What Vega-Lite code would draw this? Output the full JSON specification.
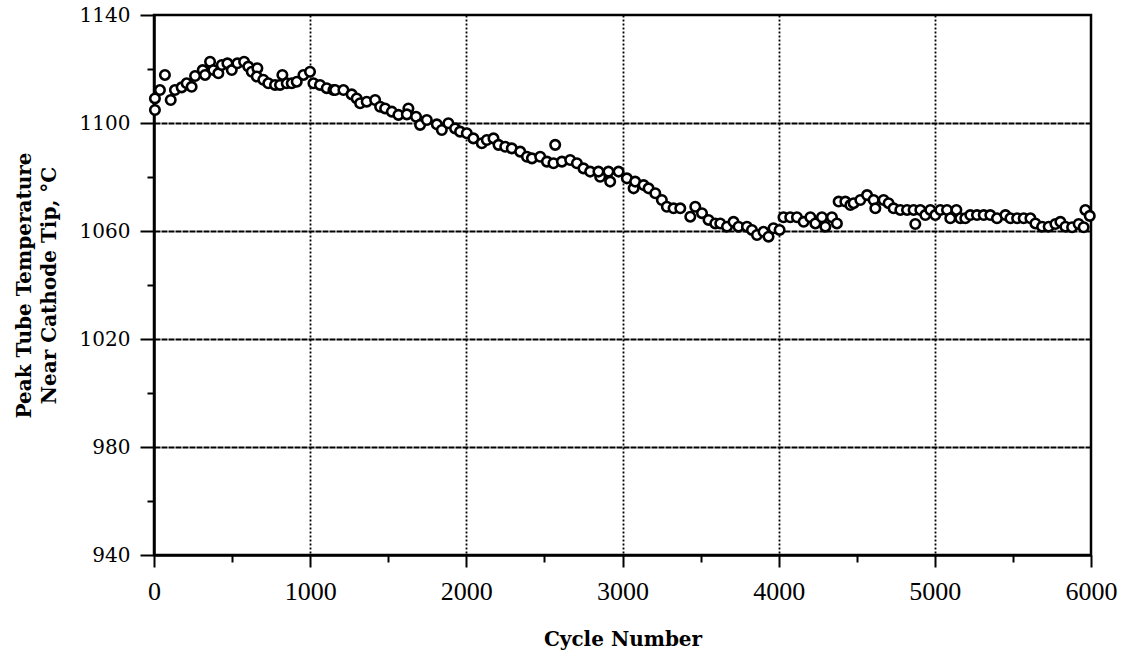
{
  "$schema": "https://vega.github.io/schema/vega-lite/v6.json",
  "width": 937,
  "height": 540,
  "autosize": "none",
  "padding": {"left": 154, "top": 15, "right": 37, "bottom": 102},
  "background": "white",
  "config": {"view": {"stroke": "black", "strokeWidth": 2.5}},
  "data": {"values": [
    {"cycle": 6, "temp": 1109.1}, {"cycle": 6, "temp": 1104.8}, {"cycle": 38, "temp": 1112.2}, {"cycle": 70, "temp": 1117.8},
    {"cycle": 107, "temp": 1108.5}, {"cycle": 134, "temp": 1112.2}, {"cycle": 177, "temp": 1113.2}, {"cycle": 209, "temp": 1114.7},
    {"cycle": 241, "temp": 1113.4}, {"cycle": 263, "temp": 1117.4}, {"cycle": 312, "temp": 1119.6}, {"cycle": 327, "temp": 1117.8},
    {"cycle": 359, "temp": 1122.7}, {"cycle": 380, "temp": 1119.6}, {"cycle": 412, "temp": 1118.4}, {"cycle": 434, "temp": 1121.5},
    {"cycle": 470, "temp": 1122.1}, {"cycle": 498, "temp": 1119.6}, {"cycle": 534, "temp": 1122.1}, {"cycle": 577, "temp": 1122.7},
    {"cycle": 604, "temp": 1120.9}, {"cycle": 626, "temp": 1119.0}, {"cycle": 662, "temp": 1120.3}, {"cycle": 658, "temp": 1117.2},
    {"cycle": 700, "temp": 1116.0}, {"cycle": 732, "temp": 1114.7}, {"cycle": 775, "temp": 1114.1}, {"cycle": 822, "temp": 1117.8},
    {"cycle": 807, "temp": 1114.1}, {"cycle": 850, "temp": 1114.7}, {"cycle": 882, "temp": 1114.7}, {"cycle": 914, "temp": 1115.3},
    {"cycle": 957, "temp": 1117.8}, {"cycle": 999, "temp": 1119.0}, {"cycle": 1021, "temp": 1114.7}, {"cycle": 1063, "temp": 1114.1},
    {"cycle": 1106, "temp": 1112.9}, {"cycle": 1149, "temp": 1112.2},
    {"cycle": 1160, "temp": 1112.2}, {"cycle": 1213, "temp": 1112.2}, {"cycle": 1266, "temp": 1110.6}, {"cycle": 1298, "temp": 1109.1},
    {"cycle": 1320, "temp": 1107.3}, {"cycle": 1362, "temp": 1107.9}, {"cycle": 1416, "temp": 1108.5}, {"cycle": 1448, "temp": 1106.0},
    {"cycle": 1480, "temp": 1105.4}, {"cycle": 1523, "temp": 1104.2}, {"cycle": 1565, "temp": 1103.0}, {"cycle": 1629, "temp": 1105.4},
    {"cycle": 1619, "temp": 1103.2}, {"cycle": 1678, "temp": 1102.3}, {"cycle": 1704, "temp": 1099.3}, {"cycle": 1747, "temp": 1101.1},
    {"cycle": 1811, "temp": 1099.5}, {"cycle": 1843, "temp": 1097.4}, {"cycle": 1885, "temp": 1099.9}, {"cycle": 1928, "temp": 1098.0},
    {"cycle": 1960, "temp": 1096.8}, {"cycle": 2003, "temp": 1096.2}, {"cycle": 2045, "temp": 1094.3}, {"cycle": 2099, "temp": 1092.5},
    {"cycle": 2131, "temp": 1093.7}, {"cycle": 2174, "temp": 1094.3}, {"cycle": 2206, "temp": 1091.9}, {"cycle": 2249, "temp": 1091.2},
    {"cycle": 2291, "temp": 1090.6}, {"cycle": 2345, "temp": 1089.4}, {"cycle": 2388, "temp": 1087.5},
    {"cycle": 2420, "temp": 1086.9}, {"cycle": 2473, "temp": 1087.5}, {"cycle": 2516, "temp": 1085.7}, {"cycle": 2558, "temp": 1085.1},
    {"cycle": 2569, "temp": 1091.9}, {"cycle": 2612, "temp": 1085.7}, {"cycle": 2665, "temp": 1086.3}, {"cycle": 2708, "temp": 1085.1},
    {"cycle": 2750, "temp": 1083.2}, {"cycle": 2793, "temp": 1082.0}, {"cycle": 2857, "temp": 1080.1}, {"cycle": 2846, "temp": 1082.0},
    {"cycle": 2910, "temp": 1082.0}, {"cycle": 2921, "temp": 1078.3}, {"cycle": 2975, "temp": 1082.0}, {"cycle": 3028, "temp": 1079.5},
    {"cycle": 3071, "temp": 1075.8}, {"cycle": 3081, "temp": 1078.3}, {"cycle": 3135, "temp": 1077.0}, {"cycle": 3167, "temp": 1075.8},
    {"cycle": 3210, "temp": 1074.0}, {"cycle": 3252, "temp": 1071.5}, {"cycle": 3284, "temp": 1069.0}, {"cycle": 3327, "temp": 1068.4},
    {"cycle": 3370, "temp": 1068.4}, {"cycle": 3434, "temp": 1065.3}, {"cycle": 3466, "temp": 1069.0}, {"cycle": 3509, "temp": 1066.6},
    {"cycle": 3551, "temp": 1064.1}, {"cycle": 3594, "temp": 1062.8},
    {"cycle": 3626, "temp": 1062.8}, {"cycle": 3669, "temp": 1061.6}, {"cycle": 3711, "temp": 1063.4}, {"cycle": 3743, "temp": 1061.6},
    {"cycle": 3797, "temp": 1061.6}, {"cycle": 3829, "temp": 1060.4}, {"cycle": 3861, "temp": 1058.5}, {"cycle": 3903, "temp": 1059.7},
    {"cycle": 3935, "temp": 1057.9}, {"cycle": 3967, "temp": 1061.0}, {"cycle": 4006, "temp": 1060.4},
    {"cycle": 4031, "temp": 1065.1}, {"cycle": 4074, "temp": 1065.1}, {"cycle": 4117, "temp": 1065.1}, {"cycle": 4160, "temp": 1063.4},
    {"cycle": 4203, "temp": 1065.1}, {"cycle": 4235, "temp": 1062.8}, {"cycle": 4277, "temp": 1065.1}, {"cycle": 4299, "temp": 1061.6},
    {"cycle": 4341, "temp": 1065.1}, {"cycle": 4373, "temp": 1062.8},
    {"cycle": 4384, "temp": 1070.9}, {"cycle": 4427, "temp": 1070.9}, {"cycle": 4459, "temp": 1069.6},
    {"cycle": 4480, "temp": 1070.3}, {"cycle": 4523, "temp": 1071.5}, {"cycle": 4566, "temp": 1073.3}, {"cycle": 4608, "temp": 1071.5},
    {"cycle": 4619, "temp": 1068.4}, {"cycle": 4672, "temp": 1071.5}, {"cycle": 4704, "temp": 1070.3}, {"cycle": 4736, "temp": 1068.4},
    {"cycle": 4779, "temp": 1067.8}, {"cycle": 4822, "temp": 1067.8}, {"cycle": 4864, "temp": 1067.8}, {"cycle": 4875, "temp": 1062.6},
    {"cycle": 4907, "temp": 1067.8}, {"cycle": 4939, "temp": 1065.9}, {"cycle": 4971, "temp": 1067.8}, {"cycle": 5003, "temp": 1065.9},
    {"cycle": 5035, "temp": 1067.8}, {"cycle": 5078, "temp": 1067.8}, {"cycle": 5099, "temp": 1064.7}, {"cycle": 5138, "temp": 1067.8},
    {"cycle": 5163, "temp": 1064.7}, {"cycle": 5195, "temp": 1064.7}, {"cycle": 5227, "temp": 1065.9}, {"cycle": 5270, "temp": 1065.9},
    {"cycle": 5313, "temp": 1065.9}, {"cycle": 5355, "temp": 1065.9}, {"cycle": 5398, "temp": 1064.7}, {"cycle": 5452, "temp": 1065.9},
    {"cycle": 5484, "temp": 1064.7}, {"cycle": 5527, "temp": 1064.7}, {"cycle": 5569, "temp": 1064.7}, {"cycle": 5612, "temp": 1064.7},
    {"cycle": 5644, "temp": 1062.8}, {"cycle": 5687, "temp": 1061.6}, {"cycle": 5729, "temp": 1061.6}, {"cycle": 5772, "temp": 1062.6},
    {"cycle": 5804, "temp": 1063.4}, {"cycle": 5836, "temp": 1061.6}, {"cycle": 5879, "temp": 1061.4}, {"cycle": 5921, "temp": 1062.6},
    {"cycle": 5953, "temp": 1061.4}, {"cycle": 5964, "temp": 1067.8}, {"cycle": 5992, "temp": 1065.6}
  ]},
  "mark": {"type": "point", "shape": "circle", "filled": true, "fill": "white", "fillOpacity": 1, "stroke": "black", "strokeWidth": 2.6, "size": 90, "opacity": 1},
  "encoding": {
    "x": {
      "field": "cycle", "type": "quantitative",
      "scale": {"domain": [0, 6000], "nice": false, "zero": false},
      "axis": {
        "values": [0, 500, 1000, 1500, 2000, 2500, 3000, 3500, 4000, 4500, 5000, 5500, 6000],
        "format": "d",
        "labelExpr": "datum.value % 1000 === 0 ? datum.label : ''",
        "tickSize": {"condition": {"test": "datum.value % 1000 === 0", "value": 12}, "value": 7},
        "grid": true,
        "gridOpacity": {"condition": {"test": "datum.value % 1000 === 0 && datum.value > 0 && datum.value < 6000", "value": 1}, "value": 0},
        "gridColor": "black", "gridDash": [2, 2], "gridWidth": 1.8,
        "domainColor": "black", "domainWidth": 2.5,
        "tickColor": "black", "tickWidth": 2,
        "labelFont": "Liberation Serif", "labelFontSize": 26, "labelColor": "black", "labelPadding": 11, "labelFlush": false,
        "title": "Cycle Number",
        "titleFont": "DejaVu Serif", "titleFontWeight": "bold", "titleFontSize": 20, "titleColor": "black", "titlePadding": 25
      }
    },
    "y": {
      "field": "temp", "type": "quantitative",
      "scale": {"domain": [940, 1140], "nice": false, "zero": false},
      "axis": {
        "values": [940, 960, 980, 1000, 1020, 1040, 1060, 1080, 1100, 1120, 1140],
        "format": "d",
        "labelExpr": "(datum.value - 940) % 40 === 0 ? datum.label : ''",
        "tickSize": {"condition": {"test": "(datum.value - 940) % 40 === 0", "value": 14}, "value": 7},
        "grid": true,
        "gridOpacity": {"condition": {"test": "(datum.value - 940) % 40 === 0 && datum.value > 940 && datum.value < 1140", "value": 1}, "value": 0},
        "gridColor": "black", "gridDash": [6, 1], "gridWidth": 1.8,
        "domainColor": "black", "domainWidth": 2.5,
        "tickColor": "black", "tickWidth": 2,
        "labelFont": "DejaVu Serif", "labelFontSize": 20, "labelColor": "black", "labelPadding": 10, "labelFlush": false,
        "title": ["Peak Tube Temperature", "Near Cathode Tip, °C"],
        "titleFont": "DejaVu Serif", "titleFontWeight": "bold", "titleFontSize": 20, "titleColor": "black",
        "titleLineHeight": 25, "titlePadding": 20
      }
    }
  }
}
